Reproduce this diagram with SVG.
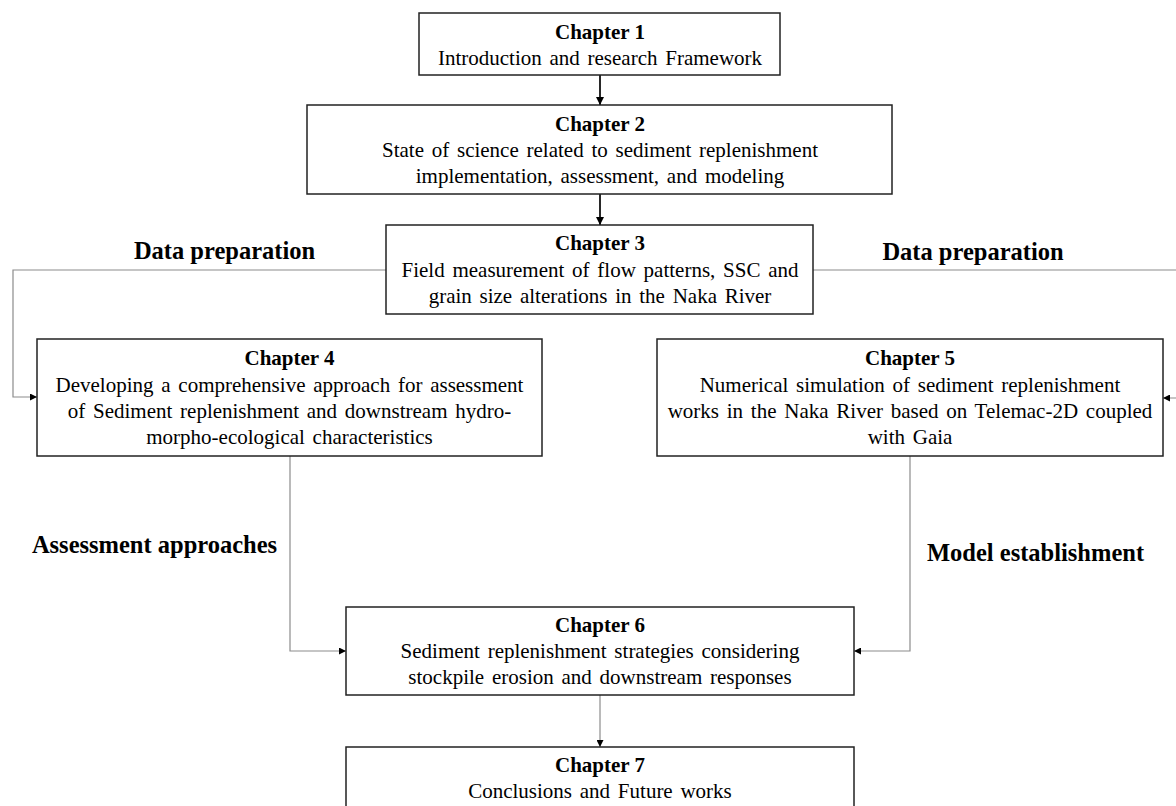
<svg xmlns="http://www.w3.org/2000/svg" width="1176" height="806" viewBox="0 0 1176 806">
<defs>
<style>
.box{fill:#fff;stroke:#222;stroke-width:1.5}
.t{font-family:"Liberation Serif","Times New Roman",serif;font-size:21px;fill:#000;text-anchor:middle;word-spacing:2.5px}
.h{font-weight:bold;word-spacing:0}
.lbl{font-family:"Liberation Serif","Times New Roman",serif;font-size:24.5px;font-weight:bold;fill:#000;text-anchor:middle}
.main{fill:none;stroke:#111;stroke-width:1.8}
.side{fill:none;stroke:#8c8c8c;stroke-width:1.2}
</style>
<marker id="ab" viewBox="0 0 8 8" refX="8" refY="4" markerWidth="8" markerHeight="8" markerUnits="userSpaceOnUse" orient="auto"><path d="M0,0 L8,4 L0,8 z" fill="#000"/></marker>
<marker id="as" viewBox="0 0 7 7" refX="7" refY="3.5" markerWidth="7" markerHeight="7" markerUnits="userSpaceOnUse" orient="auto"><path d="M0,0 L7,3.5 L0,7 z" fill="#000"/></marker>
</defs>
<rect width="1176" height="806" fill="#fff"/>
<g id="connectors">
<path class="main" d="M600,75 V105" marker-end="url(#ab)"/>
<path class="main" d="M600,194 V225" marker-end="url(#ab)"/>
<path class="side" d="M386,270 H13 V397 H37" marker-end="url(#as)"/>
<path class="side" d="M813,270 H1180 V398 H1163" marker-end="url(#as)"/>
<path class="side" d="M290,456 V651 H346" marker-end="url(#as)"/>
<path class="side" d="M910,456 V651 H854" marker-end="url(#as)"/>
<path class="side" d="M600,695 V747" marker-end="url(#as)"/>
<text class="lbl" x="224.5" y="259">Data preparation</text>
<text class="lbl" x="973" y="260">Data preparation</text>
<text class="lbl" x="154.5" y="553">Assessment approaches</text>
<text class="lbl" x="1035.5" y="561">Model establishment</text>
</g>
<g id="ch1">
<rect class="box" x="419" y="13" width="361" height="62"/>
<text class="t h" x="600" y="39">Chapter 1</text>
<text class="t" x="600" y="65">Introduction and research Framework</text>
</g>
<g id="ch2">
<rect class="box" x="307" y="105" width="585" height="89"/>
<text class="t h" x="600" y="131">Chapter 2</text>
<text class="t" x="600" y="157">State of science related to sediment replenishment</text>
<text class="t" x="600" y="183">implementation, assessment, and modeling</text>
</g>
<g id="ch3">
<rect class="box" x="386" y="225" width="427" height="89"/>
<text class="t h" x="600" y="250">Chapter 3</text>
<text class="t" x="600" y="277">Field measurement of flow patterns, SSC and</text>
<text class="t" x="600" y="303">grain size alterations in the Naka River</text>
</g>
<g id="ch4">
<rect class="box" x="37" y="339" width="505" height="117"/>
<text class="t h" x="289.5" y="365">Chapter 4</text>
<text class="t" x="289.5" y="392">Developing a comprehensive approach for assessment</text>
<text class="t" x="289.5" y="418">of Sediment replenishment and downstream hydro-</text>
<text class="t" x="289.5" y="444">morpho-ecological characteristics</text>
</g>
<g id="ch5">
<rect class="box" x="657" y="339" width="506" height="117"/>
<text class="t h" x="910" y="365">Chapter 5</text>
<text class="t" x="910" y="392">Numerical simulation of sediment replenishment</text>
<text class="t" x="910" y="418">works in the Naka River based on Telemac-2D coupled</text>
<text class="t" x="910" y="444">with Gaia</text>
</g>
<g id="ch6">
<rect class="box" x="346" y="607" width="508" height="88"/>
<text class="t h" x="600" y="632">Chapter 6</text>
<text class="t" x="600" y="658">Sediment replenishment strategies considering</text>
<text class="t" x="600" y="684">stockpile erosion and downstream responses</text>
</g>
<g id="ch7">
<rect class="box" x="346" y="747" width="508" height="70"/>
<text class="t h" x="600" y="772">Chapter 7</text>
<text class="t" x="600" y="798">Conclusions and Future works</text>
</g>
</svg>
